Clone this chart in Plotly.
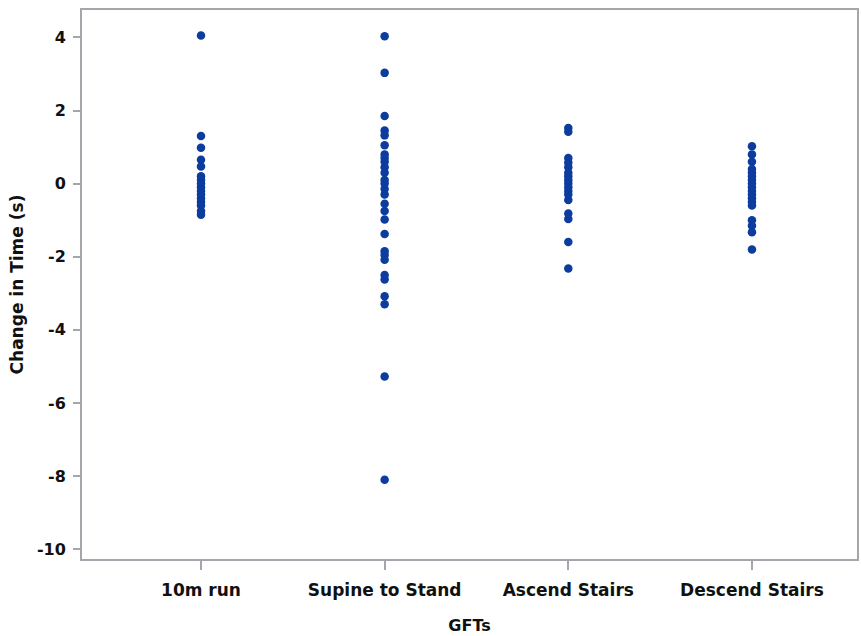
import plotly.graph_objects as go

categories = ["10m run", "Supine to Stand", "Ascend Stairs", "Descend Stairs"]

run_10m = [4.05, 1.3, 0.98, 0.65, 0.47, 0.2, 0.1, 0.0, -0.1, -0.2, -0.3, -0.4,
           -0.5, -0.6, -0.75, -0.85]
supine_to_stand = [4.03, 3.03, 1.85, 1.45, 1.32, 1.05, 0.8, 0.7, 0.6, 0.45, 0.3,
                   0.1, 0.0, -0.15, -0.3, -0.55, -0.75, -0.98, -1.38, -1.85,
                   -1.95, -2.08, -2.5, -2.62, -3.08, -3.3, -5.28, -8.1]
ascend_stairs = [1.52, 1.42, 0.7, 0.58, 0.45, 0.3, 0.2, 0.1, 0.0, -0.1, -0.2,
                 -0.3, -0.45, -0.82, -0.97, -1.6, -2.32]
descend_stairs = [1.02, 0.8, 0.6, 0.4, 0.3, 0.2, 0.1, 0.0, -0.1, -0.2, -0.3,
                  -0.4, -0.5, -0.6, -1.0, -1.15, -1.33, -1.8]

series = [run_10m, supine_to_stand, ascend_stairs, descend_stairs]
y_ticks = [4, 2, 0, -2, -4, -6, -8, -10]

xs, ys = [], []
for cat, vals in zip(categories, series):
    xs += [cat] * len(vals)
    ys += vals

fig = go.Figure(go.Scatter(
    x=xs, y=ys, mode="markers",
    marker=dict(color="#0b3c9e", size=8.5, line=dict(width=0)),
    showlegend=False,
))

FAM = "DejaVu Sans, Liberation Sans, Arial, sans-serif"
font = dict(family=FAM, size=16, color="#111111")
axis_color = "#a3a7ab"

fig.update_layout(
    width=861, height=636,
    margin=dict(l=82, r=2, t=10, b=77),
    paper_bgcolor="white", plot_bgcolor="white",
    font=font,
    xaxis=dict(
        type="category", categoryorder="array", categoryarray=categories,
        range=[-0.648, 3.572],
        showgrid=False, zeroline=False,
        showline=True, linecolor=axis_color, linewidth=2, mirror=True,
        ticks="outside", ticklen=9, tickcolor=axis_color, tickwidth=1.5,
        ticklabelstandoff=6,
        tickfont=dict(size=17, family=FAM, weight="bold"),
        title=dict(text="<b>GFTs</b>", font=dict(size=16, family=FAM), standoff=20),
    ),
    yaxis=dict(
        range=[-10.27, 4.75],
        tickvals=y_ticks, ticktext=[str(v) for v in y_ticks],
        showgrid=False, zeroline=False,
        showline=True, linecolor=axis_color, linewidth=2, mirror=True,
        ticks="outside", ticklen=7, tickcolor=axis_color, tickwidth=1.5,
        ticklabelstandoff=4,
        tickfont=dict(size=16, family=FAM, weight="bold"),
        title=dict(text="<b>Change in Time (s)</b>", font=dict(size=17, family=FAM), standoff=9),
    ),
)

fig.write_html("out.html", config={"displayModeBar": False})

with open("out.html", encoding="utf-8") as f:
    html = f.read()
html = html.replace("<body>", '<body style="margin:0;padding:0;overflow:hidden">', 1)
with open("out.html", "w", encoding="utf-8") as f:
    f.write(html)
